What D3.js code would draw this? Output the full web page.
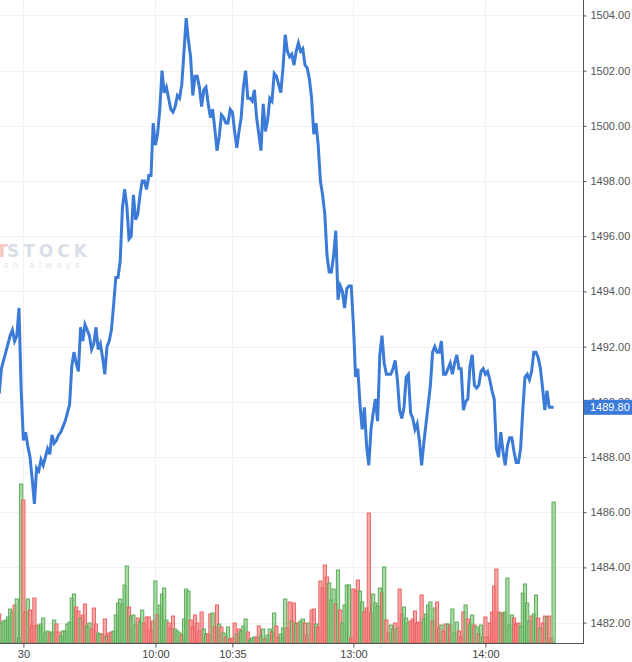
<!DOCTYPE html>
<html>
<head>
<meta charset="utf-8">
<script src="https://cdn.jsdelivr.net/npm/d3@7"></script>
<style>
  body { margin: 0; background: #fff; }
  svg { display: block; font-family: "Liberation Sans", Arial, sans-serif; }
</style>
</head>
<body>
<svg id="chart"></svg>
<script>
// minute bars, index 0 = first bar on screen
const prices = [
  1490.3,1491.2,1491.5,1491.8,1492.1,1492.4,1492.6,1492.2,1492.4,1493.4,
  1490.4,1488.6,1488.9,1488.4,1488.0,1487.2,1486.3,1487.6,1487.5,1487.9,
  1487.7,1488.0,1488.3,1488.1,1488.8,1488.5,1488.6,1488.8,1488.9,1489.1,
  1489.3,1489.6,1489.9,1491.3,1491.8,1491.4,1491.1,1492.7,1492.2,1492.8,
  1492.6,1492.4,1491.9,1492.1,1492.7,1491.9,1492.1,1491.6,1491.0,1492.0,
  1492.2,1492.6,1493.5,1494.5,1494.5,1495.1,1497.0,1497.7,1497.1,1495.9,
  1496.0,1497.5,1496.6,1496.8,1497.5,1498.0,1498.0,1497.7,1498.2,1498.2,
  1500.1,1499.3,1499.7,1500.6,1502.0,1501.2,1501.4,1501.0,1500.6,1500.5,
  1500.7,1501.1,1501.0,1501.5,1502.7,1503.9,1503.1,1502.5,1501.1,1501.8,
  1501.8,1501.4,1500.7,1501.3,1501.4,1500.8,1500.3,1500.6,1499.9,1499.1,
  1499.6,1500.4,1500.3,1500.1,1500.1,1500.6,1500.5,1499.8,1499.2,1499.8,
  1500.3,1501.4,1502.0,1501.0,1501.0,1500.9,1501.3,1500.3,1499.7,1499.1,
  1500.8,1499.8,1500.2,1501.0,1500.9,1501.9,1501.8,1501.5,1501.2,1502.1,
  1503.3,1502.7,1502.5,1502.6,1502.2,1502.7,1503.0,1502.7,1502.8,1502.2,
  1502.1,1501.7,1501.0,1499.7,1500.1,1499.3,1498.0,1497.5,1496.8,1495.3,
  1494.7,1494.7,1495.3,1496.2,1493.7,1494.2,1494.0,1493.4,1494.1,1494.2,
  1494.2,1492.8,1490.9,1491.2,1489.9,1489.0,1489.8,1488.4,1487.7,1489.0,
  1489.6,1490.1,1489.3,1491.7,1492.4,1491.4,1491.0,1491.0,1491.0,1491.2,
  1491.5,1490.8,1489.7,1489.4,1489.8,1490.9,1491.0,1489.6,1489.4,1489.0,
  1489.2,1488.6,1487.7,1488.5,1489.2,1489.9,1490.6,1491.8,1492.0,1491.8,
  1491.8,1492.2,1491.0,1491.0,1491.2,1491.4,1491.0,1491.4,1491.7,1491.2,
  1491.2,1489.7,1490.0,1490.1,1491.3,1491.7,1490.6,1490.5,1490.6,1491.1,
  1491.2,1491.0,1491.1,1490.8,1490.4,1490.1,1488.3,1488.0,1488.9,1488.2,
  1487.7,1488.4,1488.7,1488.7,1488.2,1487.8,1487.8,1488.3,1489.7,1490.9,
  1491.0,1490.8,1491.1,1491.8,1491.8,1491.6,1491.2,1490.5,1489.7,1490.4,
  1489.8,1489.8,1489.8
];

const volumes = [
  29,20,22,23,26,34,31,38,44,5,
  159,143,31,44,33,17,45,18,17,19,
  25,10,12,10,11,23,19,11,7,12,
  12,19,21,45,49,36,32,25,28,39,
  17,20,14,35,19,10,9,9,24,7,
  10,11,12,28,40,44,39,58,77,36,
  27,28,18,25,21,33,20,26,26,13,
  22,62,28,38,49,55,23,20,15,27,
  14,12,10,8,24,54,52,23,16,28,
  20,12,31,14,9,9,29,30,16,38,
  19,16,10,6,16,4,5,20,9,14,
  12,17,24,11,3,5,6,6,17,7,
  14,4,8,14,11,30,17,6,9,15,
  44,15,41,22,40,20,20,22,24,20,
  8,20,33,34,19,16,62,55,78,66,
  60,43,54,39,73,33,20,38,58,58,
  5,54,52,63,52,41,31,35,130,30,
  49,40,37,55,50,76,23,10,18,14,
  20,15,54,29,36,25,20,22,24,32,
  20,21,48,24,29,38,41,22,35,41,
  15,18,12,19,19,18,34,10,21,12,
  6,31,38,24,19,28,18,16,9,18,
  6,26,6,20,31,57,74,31,30,30,
  31,65,18,28,25,19,20,17,50,59,
  40,22,27,29,48,25,15,20,27,26,
  27,5,141
];

// u = up bar (green), d = down bar (red), ten bars per row
const barDirRows = [
  "duuuuuuduu",
  "uddudddduu",
  "uuuduuddu" + "u",
  "uuuuudduddd".slice(0, 10),
  "uudddu" + "uddu",
  "dduuuuuuud",
  "uuuduudddd",
  "duduuuuddd",
  "uuuduuuddd",
  "ddduudduddd".slice(0, 10),
  "udududddud",
  "uuuduuuddu",
  "uduududduu",
  "uddududuud",
  "dudduddddd",
  "uuududuuuu",
  "dddduudddd",
  "uuuududduu",
  "dudduuuddd",
  "ddduuuudud",
  "dudduduuud",
  "dduduududu",
  "udddddddud",
  "uuuuddduuu",
  "uuduududdu",
  "ddu"
];
const barDir = barDirRows.join("").split("");

const priceTicks = d3.range(1482, 1505, 2);
const timeTickIndex = [11, 71, 106, 161, 221];
const timeTickLabels = ["30", "10:00", "10:35", "13:00", "14:00"];
const lastPrice = 1489.80;

const width = 632;
const height = 662;
const plotRight = 583;
const plotBottom = 643;

const svg = d3.select("#chart").attr("width", width).attr("height", height);

const x = d3.scaleLinear().domain([0, 265]).range([-0.8, 582.2]);
const y = d3.scaleLinear().domain([1481.26, 1504.56]).range([plotBottom, 0]);
const yVol = d3.scaleLinear().domain([0, 160]).range([plotBottom, plotBottom - 160]);

// watermark (cut at the left edge, as in the source)
const wm = svg.append("g");
wm.append("text")
  .attr("x", 8).attr("y", 257)
  .attr("text-anchor", "end")
  .attr("font-family", "DejaVu Sans").attr("font-weight", "bold")
  .attr("font-size", 18).attr("fill", "#f6c9c0")
  .text("T");
wm.append("text")
  .attr("x", 7).attr("y", 257)
  .attr("font-family", "DejaVu Sans").attr("font-weight", "bold")
  .attr("font-size", 17).attr("fill", "#d9dee8")
  .attr("textLength", 80).attr("lengthAdjust", "spacing")
  .text("STOCK");
wm.append("text")
  .attr("x", 84).attr("y", 268)
  .attr("text-anchor", "end")
  .attr("font-size", 9).attr("fill", "#e3e6ec")
  .attr("letter-spacing", 4.5)
  .text("fresh always");

// grid
svg.append("g")
  .selectAll("line")
  .data(priceTicks)
  .join("line")
  .attr("x1", 0).attr("x2", plotRight)
  .attr("y1", (d) => Math.round(y(d)) + 0.5).attr("y2", (d) => Math.round(y(d)) + 0.5)
  .attr("stroke", "#f1f1f1");

svg.append("g")
  .selectAll("line")
  .data(timeTickIndex)
  .join("line")
  .attr("x1", (d) => Math.round(x(d)) + 0.5).attr("x2", (d) => Math.round(x(d)) + 0.5)
  .attr("y1", 0).attr("y2", plotBottom)
  .attr("stroke", "#f1f1f1");

// volume bars
const barW = 3.2;
svg.append("g")
  .selectAll("rect")
  .data(volumes)
  .join("rect")
  .attr("x", (d, i) => x(i) - barW / 2)
  .attr("y", (d) => yVol(d))
  .attr("width", barW)
  .attr("height", (d) => plotBottom - yVol(d))
  .attr("fill", (d, i) => (barDir[i] === "u" ? "#8fd08a" : "#ff8b8b"))
  .attr("fill-opacity", 0.75)
  .attr("stroke", (d, i) => (barDir[i] === "u" ? "#55a650" : "#e45c5c"))
  .attr("stroke-width", 0.9);

// price line
const line = d3.line().x((d, i) => x(i)).y((d) => y(d));
svg.append("path")
  .datum(prices)
  .attr("d", line)
  .attr("fill", "none")
  .attr("stroke", "#3b7bd7")
  .attr("stroke-width", 3);

// axes
const yAxis = d3.axisRight(y)
  .tickValues(priceTicks)
  .tickFormat(d3.format(".2f"))
  .tickSize(3)
  .tickSizeOuter(0)
  .tickPadding(4);

const yAxisG = svg.append("g").attr("transform", `translate(${plotRight + 0.5},0)`).call(yAxis);
yAxisG.select(".domain").remove();
yAxisG.selectAll("line").attr("stroke", "#555");
yAxisG.selectAll("text").attr("fill", "#555").attr("font-size", 11).attr("font-family", "Liberation Sans, Arial, sans-serif");

const xAxis = d3.axisBottom(x)
  .tickValues(timeTickIndex)
  .tickFormat((d, i) => timeTickLabels[i])
  .tickSize(4)
  .tickSizeOuter(0)
  .tickPadding(3);

const xAxisG = svg.append("g").attr("transform", `translate(0,${plotBottom + 0.5})`).call(xAxis);
xAxisG.select(".domain").remove();
xAxisG.selectAll("line").attr("stroke", "#555");
xAxisG.selectAll("text").attr("fill", "#444").attr("font-size", 11).attr("font-family", "Liberation Sans, Arial, sans-serif");

svg.append("line")
  .attr("x1", plotRight + 0.5).attr("x2", plotRight + 0.5)
  .attr("y1", 0).attr("y2", plotBottom + 1)
  .attr("stroke", "#555");
svg.append("line")
  .attr("x1", 0).attr("x2", plotRight + 1)
  .attr("y1", plotBottom + 0.5).attr("y2", plotBottom + 0.5)
  .attr("stroke", "#555");

// last price marker
const lp = svg.append("g").attr("transform", `translate(${plotRight + 1},${y(lastPrice)})`);
lp.append("rect")
  .attr("x", 0).attr("y", -7.5)
  .attr("width", width - plotRight - 1).attr("height", 15)
  .attr("fill", "#3b7bd7");
lp.append("text")
  .attr("x", 6).attr("y", 0)
  .attr("dy", "0.36em")
  .attr("fill", "#fff")
  .attr("font-size", 11)
  .text(d3.format(".2f")(lastPrice));
</script>
</body>
</html>
